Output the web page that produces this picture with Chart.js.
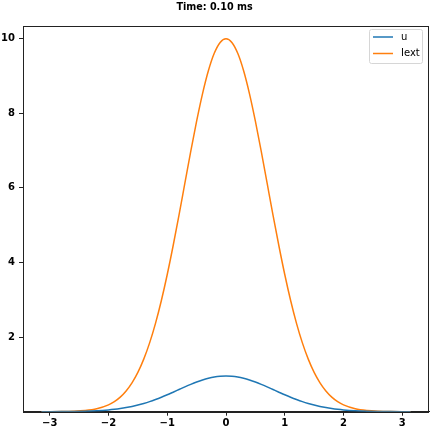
<!DOCTYPE html>
<html>
<head>
<meta charset="utf-8">
<script src="https://cdn.jsdelivr.net/npm/chart.js@4"></script>
<style>
html,body{margin:0;padding:0;background:#fff;}
#wrap{width:432px;height:432px;}
</style>
</head>
<body>
<div id="wrap"><canvas id="c" width="432" height="432"></canvas></div>
<script>
const titleText = "Time: 0.10 ms";
const xValues = [-3.14,-3.0,-2.8,-2.6,-2.4,-2.2,-2.0,-1.9,-1.8,-1.7,-1.6,-1.5,-1.4,-1.3,-1.2,-1.1,-1.0,-0.9,-0.8,-0.7,-0.6,-0.5,-0.4,-0.3,-0.2,-0.1,0,0.1,0.2,0.3,0.4,0.5,0.6,0.7,0.8,0.9,1.0,1.1,1.2,1.3,1.4,1.5,1.6,1.7,1.8,1.9,2.0,2.2,2.4,2.6,2.8,3.0,3.14];
const uValues = [0.0006,0.0011,0.0027,0.006,0.0128,0.0255,0.0478,0.064,0.0845,0.110,0.141,0.178,0.221,0.270,0.326,0.387,0.453,0.523,0.594,0.665,0.733,0.796,0.851,0.897,0.932,0.953,0.96,0.953,0.932,0.897,0.851,0.796,0.733,0.665,0.594,0.523,0.453,0.387,0.326,0.270,0.221,0.178,0.141,0.110,0.0845,0.064,0.0478,0.0255,0.0128,0.006,0.0027,0.0011,0.0006];
const iextValues = [0.0005,0.0012,0.0039,0.0116,0.0315,0.079,0.183,0.271,0.392,0.556,0.773,1.054,1.409,1.845,2.369,2.982,3.679,4.449,5.273,6.126,6.977,7.788,8.521,9.139,9.608,9.900,10,9.900,9.608,9.139,8.521,7.788,6.977,6.126,5.273,4.449,3.679,2.982,2.369,1.845,1.409,1.054,0.773,0.556,0.392,0.271,0.183,0.079,0.0315,0.0116,0.0039,0.0012,0.0005];
const seriesNames = ["u","Iext"];
const seriesColors = ["#1f77b4","#ff7f0e"];
const xTicks = [-3,-2,-1,0,1,2,3];
const yTicks = [2,4,6,8,10];

function pts(ys){ return xValues.map((x,i)=>({x:x,y:ys[i]})); }

const frame = {
  id:'frame',
  afterDraw(chart){
    const a = chart.chartArea, ctx = chart.ctx;
    ctx.save();
    ctx.strokeStyle = '#222'; ctx.lineWidth = 1;
    ctx.strokeRect(Math.round(a.left)+0.5, Math.round(a.top)+0.5, Math.round(a.right-a.left)-1, Math.round(a.bottom-a.top));
    // legend
    const bx = 369.5, by = 29.5, bw = 53, bh = 34;
    ctx.fillStyle = 'rgba(255,255,255,0.8)';
    ctx.strokeStyle = '#d6d6d6';
    ctx.beginPath();
    if (ctx.roundRect) ctx.roundRect(bx,by,bw,bh,2); else ctx.rect(bx,by,bw,bh);
    ctx.fill(); ctx.stroke();
    ctx.font = '10px "DejaVu Sans"';
    ctx.textBaseline = 'middle';
    chart.data.datasets.forEach((ds,i)=>{
      const yy = 37 + i*16.5;
      ctx.strokeStyle = ds.borderColor; ctx.lineWidth = 1.5;
      ctx.beginPath(); ctx.moveTo(373,yy); ctx.lineTo(393,yy); ctx.stroke();
      ctx.fillStyle = '#000';
      ctx.fillText(ds.label, 401, yy);
    });
    ctx.restore();
  }
};

new Chart(document.getElementById('c'), {
  type:'line',
  data:{
    datasets:[
      {label:seriesNames[0], data:pts(uValues), borderColor:seriesColors[0], borderWidth:1.5, pointRadius:0, cubicInterpolationMode:'monotone', fill:false},
      {label:seriesNames[1], data:pts(iextValues), borderColor:seriesColors[1], borderWidth:1.5, pointRadius:0, cubicInterpolationMode:'monotone', fill:false}
    ]
  },
  options:{
    responsive:false, animation:false, devicePixelRatio:1,
    layout:{padding:{left:0,right:3,top:0,bottom:0}},
    plugins:{
      legend:{display:false},
      tooltip:{enabled:false},
      title:{display:true, text:titleText, color:'#000', font:{family:'"DejaVu Sans"', size:9.6, weight:'bold', lineHeight:1.2}, padding:{top:1.5,bottom:13}}
    },
    scales:{
      x:{type:'linear', min:-3.455, max:3.455,
        afterBuildTicks(s){ s.ticks = xTicks.map(v=>({value:v})); },
        afterFit(s){ s.height = 20.3; },
        grid:{drawOnChartArea:false, drawTicks:true, tickLength:4, tickColor:'#222'},
        border:{display:true, color:'#222', width:1},
        ticks:{color:'#000', padding:2, maxRotation:0, font:{family:'"DejaVu Sans"', size:10, weight:'bold'},
          callback:(v)=> (v<0? '\u2212'+Math.abs(v) : String(v))}
      },
      y:{type:'linear', min:0, max:10.34,
        afterBuildTicks(s){ s.ticks = yTicks.map(v=>({value:v})); },
        afterFit(s){ s.width = 23; },
        grid:{drawOnChartArea:false, drawTicks:true, tickLength:4, tickColor:'#222'},
        border:{display:true, color:'#222', width:1},
        ticks:{color:'#000', padding:4, font:{family:'"DejaVu Sans"', size:10, weight:'bold'}}
      }
    }
  },
  plugins:[frame]
});
</script>
</body>
</html>
